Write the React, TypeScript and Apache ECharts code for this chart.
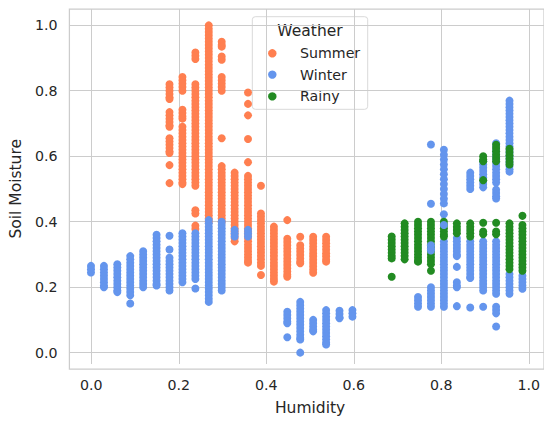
import { useEffect, useRef } from "react";
import * as echarts from "echarts";

// Humidity levels (k / 33)
const humidityLevels = [
  0.0, 0.03, 0.061, 0.091, 0.121, 0.152, 0.182, 0.212, 0.242, 0.273,
  0.303, 0.333, 0.364, 0.394, 0.424, 0.455, 0.485, 0.515, 0.545, 0.576,
  0.606, 0.636, 0.667, 0.697, 0.727, 0.758, 0.788, 0.818, 0.848, 0.879,
  0.909, 0.939, 0.97, 1.0,
];

const xTicks = [0, 0.2, 0.4, 0.6, 0.8, 1.0];
const yTicks = [0, 0.2, 0.4, 0.6, 0.8, 1.0];
const weatherNames = ["Summer", "Winter", "Rainy"];

// [humidity level index, soil moisture values]
const summerColumns: [number, number[]][] = [
  [6, [0.82, 0.81, 0.8, 0.79, 0.78, 0.775, 0.735, 0.725, 0.715, 0.705, 0.695, 0.69, 0.655, 0.645, 0.635, 0.625, 0.615, 0.61, 0.573, 0.518]],
  [7, [0.842, 0.832, 0.822, 0.812, 0.8, 0.742, 0.732, 0.722, 0.715, 0.69, 0.68, 0.67, 0.66, 0.65, 0.64, 0.63, 0.62, 0.61, 0.6, 0.59, 0.58, 0.57, 0.56, 0.55, 0.54, 0.53, 0.52, 0.515]],
  [8, [0.917, 0.907, 0.897, 0.82, 0.81, 0.8, 0.79, 0.78, 0.77, 0.76, 0.75, 0.74, 0.73, 0.72, 0.71, 0.7, 0.69, 0.68, 0.67, 0.66, 0.65, 0.64, 0.63, 0.62, 0.61, 0.6, 0.59, 0.58, 0.57, 0.56, 0.55, 0.54, 0.53, 0.52, 0.51, 0.435, 0.425, 0.388, 0.378]],
  [9, [1.0, 0.99, 0.98, 0.97, 0.96, 0.95, 0.94, 0.93, 0.92, 0.91, 0.9, 0.89, 0.88, 0.87, 0.86, 0.85, 0.84, 0.83, 0.82, 0.81, 0.8, 0.79, 0.78, 0.77, 0.76, 0.75, 0.74, 0.73, 0.72, 0.71, 0.7, 0.69, 0.68, 0.67, 0.66, 0.65, 0.64, 0.63, 0.62, 0.61, 0.6, 0.59, 0.58, 0.57, 0.56, 0.55, 0.54, 0.53, 0.52, 0.51, 0.5, 0.49, 0.48, 0.47, 0.46, 0.45, 0.44, 0.43, 0.42, 0.41, 0.4]],
  [10, [0.95, 0.94, 0.935, 0.905, 0.895, 0.842, 0.832, 0.822, 0.812, 0.8, 0.655, 0.57, 0.56, 0.55, 0.54, 0.53, 0.52, 0.51, 0.5, 0.49, 0.48, 0.47, 0.46, 0.45, 0.44, 0.43, 0.42, 0.41, 0.4]],
  [11, [0.55, 0.54, 0.53, 0.52, 0.51, 0.5, 0.49, 0.48, 0.47, 0.46, 0.45, 0.44, 0.43, 0.42, 0.41, 0.4, 0.39, 0.38, 0.37, 0.36, 0.35, 0.34]],
  [12, [0.795, 0.76, 0.725, 0.653, 0.582, 0.54, 0.53, 0.52, 0.51, 0.5, 0.49, 0.48, 0.47, 0.46, 0.45, 0.44, 0.43, 0.42, 0.41, 0.4, 0.39, 0.38, 0.37, 0.36, 0.35, 0.34, 0.33, 0.32, 0.31, 0.3, 0.29, 0.28, 0.275]],
  [13, [0.51, 0.425, 0.415, 0.405, 0.395, 0.385, 0.375, 0.365, 0.355, 0.345, 0.335, 0.325, 0.315, 0.305, 0.295, 0.285, 0.275, 0.265, 0.237]],
  [14, [0.385, 0.375, 0.365, 0.355, 0.345, 0.335, 0.325, 0.315, 0.305, 0.295, 0.285, 0.275, 0.265, 0.255, 0.245, 0.235, 0.225, 0.217]],
  [15, [0.405, 0.348, 0.338, 0.328, 0.318, 0.308, 0.298, 0.288, 0.278, 0.268, 0.258, 0.248, 0.238, 0.232]],
  [16, [0.354, 0.328, 0.318, 0.308, 0.298, 0.288, 0.278, 0.273]],
  [17, [0.354, 0.344, 0.334, 0.324, 0.314, 0.304, 0.294, 0.284, 0.274, 0.264, 0.254, 0.244]],
  [18, [0.354, 0.344, 0.334, 0.324, 0.314, 0.304, 0.294, 0.284, 0.278]],
];

const winterColumns: [number, number[]][] = [
  [0, [0.265, 0.255, 0.245]],
  [1, [0.265, 0.255, 0.245, 0.235, 0.225, 0.215, 0.205, 0.2]],
  [2, [0.27, 0.26, 0.25, 0.24, 0.23, 0.22, 0.21, 0.2, 0.19, 0.185]],
  [3, [0.295, 0.285, 0.275, 0.265, 0.255, 0.245, 0.235, 0.225, 0.215, 0.205, 0.195, 0.185, 0.175, 0.15]],
  [4, [0.31, 0.3, 0.29, 0.28, 0.27, 0.26, 0.25, 0.24, 0.23, 0.22, 0.21, 0.2]],
  [5, [0.36, 0.35, 0.34, 0.33, 0.32, 0.31, 0.3, 0.29, 0.28, 0.27, 0.26, 0.25, 0.24, 0.23, 0.22, 0.21, 0.205]],
  [6, [0.357, 0.315, 0.29, 0.28, 0.27, 0.26, 0.25, 0.24, 0.23, 0.22, 0.21, 0.2, 0.19]],
  [7, [0.365, 0.355, 0.345, 0.335, 0.325, 0.315, 0.305, 0.295, 0.285, 0.275, 0.265, 0.255, 0.245, 0.235, 0.225, 0.215]],
  [8, [0.365, 0.355, 0.345, 0.335, 0.325, 0.315, 0.305, 0.295, 0.285, 0.275, 0.265, 0.255, 0.245, 0.235, 0.225, 0.196]],
  [9, [0.405, 0.395, 0.385, 0.375, 0.365, 0.355, 0.345, 0.335, 0.325, 0.315, 0.305, 0.295, 0.285, 0.275, 0.265, 0.255, 0.245, 0.235, 0.225, 0.215, 0.205, 0.195, 0.185, 0.175, 0.165, 0.155]],
  [10, [0.4, 0.39, 0.38, 0.37, 0.36, 0.35, 0.34, 0.33, 0.32, 0.31, 0.3, 0.29, 0.28, 0.27, 0.26, 0.25, 0.24, 0.23, 0.22, 0.21, 0.2, 0.19]],
  [11, [0.375, 0.365, 0.355]],
  [12, [0.375, 0.365, 0.355]],
  [15, [0.125, 0.115, 0.105, 0.095, 0.09, 0.047]],
  [16, [0.155, 0.145, 0.135, 0.125, 0.115, 0.105, 0.095, 0.085, 0.075, 0.065, 0.055, 0.045, 0.04, 0.0]],
  [17, [0.1, 0.09, 0.08, 0.07, 0.065]],
  [18, [0.13, 0.12, 0.11, 0.1, 0.09, 0.08, 0.07, 0.06, 0.05, 0.04, 0.03, 0.025]],
  [19, [0.128, 0.118, 0.108, 0.105]],
  [20, [0.13, 0.12, 0.11]],
  [25, [0.17, 0.16, 0.15, 0.14]],
  [26, [0.636, 0.455, 0.2, 0.19, 0.18, 0.17, 0.16, 0.15, 0.14]],
  [27, [0.62, 0.605, 0.59, 0.575, 0.56, 0.545, 0.53, 0.515, 0.5, 0.485, 0.47, 0.456, 0.423, 0.34, 0.33, 0.32, 0.31, 0.3, 0.29, 0.28, 0.27, 0.26, 0.25, 0.24, 0.23, 0.22, 0.21, 0.2, 0.19, 0.18, 0.17, 0.16, 0.15, 0.14]],
  [28, [0.35, 0.34, 0.33, 0.32, 0.31, 0.3, 0.295, 0.262, 0.215, 0.205, 0.2, 0.142]],
  [29, [0.55, 0.54, 0.53, 0.52, 0.51, 0.5, 0.34, 0.33, 0.32, 0.31, 0.3, 0.29, 0.28, 0.27, 0.26, 0.25, 0.24, 0.23, 0.228, 0.138]],
  [30, [0.585, 0.575, 0.565, 0.555, 0.545, 0.535, 0.525, 0.515, 0.505, 0.34, 0.33, 0.32, 0.31, 0.3, 0.29, 0.28, 0.27, 0.26, 0.25, 0.24, 0.23, 0.22, 0.21, 0.2, 0.19, 0.14]],
  [31, [0.64, 0.63, 0.62, 0.61, 0.6, 0.59, 0.58, 0.57, 0.56, 0.55, 0.54, 0.53, 0.52, 0.498, 0.488, 0.478, 0.471, 0.34, 0.33, 0.32, 0.31, 0.3, 0.29, 0.28, 0.27, 0.26, 0.25, 0.24, 0.23, 0.22, 0.21, 0.2, 0.19, 0.18, 0.14, 0.13, 0.12, 0.08]],
  [32, [0.77, 0.76, 0.75, 0.74, 0.73, 0.72, 0.71, 0.7, 0.69, 0.68, 0.67, 0.66, 0.65, 0.64, 0.63, 0.62, 0.61, 0.6, 0.59, 0.58, 0.57, 0.56, 0.553, 0.24, 0.23, 0.22, 0.21, 0.2, 0.19, 0.18]],
  [33, [0.235, 0.225, 0.215, 0.205, 0.195]],
];

// winter points that lie on top of rainy points
const winterTopColumns: [number, number[]][] = [
  [26, [0.328, 0.318, 0.312]],
  [27, [0.39]],
];

const rainyColumns: [number, number[]][] = [
  [23, [0.355, 0.345, 0.335, 0.325, 0.315, 0.305, 0.295, 0.288, 0.232]],
  [24, [0.395, 0.385, 0.375, 0.365, 0.355, 0.345, 0.335, 0.325, 0.315, 0.305, 0.295, 0.285]],
  [25, [0.4, 0.39, 0.38, 0.37, 0.36, 0.35, 0.34, 0.33, 0.32, 0.31, 0.3, 0.29, 0.28, 0.278]],
  [26, [0.4, 0.39, 0.38, 0.37, 0.36, 0.35, 0.34, 0.33, 0.32, 0.31, 0.3, 0.29, 0.28, 0.27, 0.25]],
  [27, [0.4, 0.39, 0.38, 0.37, 0.36, 0.355]],
  [28, [0.395, 0.385, 0.375, 0.365]],
  [29, [0.395, 0.385, 0.375, 0.365, 0.355]],
  [30, [0.6, 0.59, 0.585, 0.527, 0.397, 0.37, 0.362]],
  [31, [0.635, 0.625, 0.615, 0.605, 0.595, 0.585, 0.397, 0.37, 0.362]],
  [32, [0.623, 0.613, 0.603, 0.593, 0.583, 0.575, 0.395, 0.385, 0.375, 0.365, 0.355, 0.345, 0.335, 0.325, 0.315, 0.305, 0.295, 0.285, 0.275, 0.265, 0.255]],
  [33, [0.418, 0.39, 0.38, 0.37, 0.36, 0.35, 0.34, 0.33, 0.32, 0.31, 0.3, 0.29, 0.28, 0.27, 0.26, 0.25]],
];

const COLORS = ["#FF7F50", "#6495ED", "#228B22"];
const TEXT = "#262626";
const GRID = "#cccccc";
const FONT = "DejaVu Sans";

function toPoints(cols: [number, number[]][]) {
  return cols.flatMap(([k, ys]) => ys.map((y) => [humidityLevels[k], y]));
}

export default function App() {
  const ref = useRef<HTMLDivElement>(null);
  useEffect(() => {
    document.body.style.margin = "0";
    const chart = echarts.init(ref.current!, null, { renderer: "svg" });
    const scatter = (name: string, color: string, cols: [number, number[]][]) => ({
      type: "scatter",
      name,
      xAxisIndex: 0,
      yAxisIndex: 0,
      symbol: "circle",
      symbolSize: 8,
      itemStyle: { color, borderWidth: 0, opacity: 1 },
      data: toPoints(cols),
    });
    const legendX = 252.3;
    const legendY = 16.7;
    const rowY = [53.3, 74.6, 96.4];
    chart.setOption({
      animation: false,
      textStyle: { fontFamily: FONT },
      grid: [
        { left: 69.4, top: 9, width: 481.3, height: 360, show: true, borderColor: GRID, borderWidth: 1.25, backgroundColor: "transparent" },
        { left: 91.3, top: 9, width: 437.5, height: 360 },
        { left: 69.4, top: 25, width: 481.3, height: 327.6 },
      ],
      xAxis: [
        { gridIndex: 0, type: "value", min: -0.05, max: 1.05, show: false },
        {
          gridIndex: 1,
          type: "value",
          min: xTicks[0],
          max: xTicks[xTicks.length - 1],
          interval: 0.2,
          axisLine: { show: false },
          axisTick: { show: false },
          splitLine: { show: true, lineStyle: { color: GRID, width: 1 } },
          axisLabel: { fontSize: 14.2, color: TEXT, margin: 14, fontFamily: FONT, formatter: (v: number) => v.toFixed(1) },
          name: "Humidity",
          nameLocation: "middle",
          nameGap: 36,
          nameTextStyle: { fontSize: 15.5, color: TEXT, fontFamily: FONT },
        },
        { gridIndex: 2, type: "value", min: 0, max: 1, show: false },
      ],
      yAxis: [
        { gridIndex: 0, type: "value", min: -0.05, max: 1.05, show: false },
        { gridIndex: 1, type: "value", min: 0, max: 1, show: false },
        {
          gridIndex: 2,
          type: "value",
          min: yTicks[0],
          max: yTicks[yTicks.length - 1],
          interval: 0.2,
          axisLine: { show: false },
          axisTick: { show: false },
          splitLine: { show: true, lineStyle: { color: GRID, width: 1 } },
          axisLabel: { fontSize: 14.2, color: TEXT, margin: 12, fontFamily: FONT, formatter: (v: number) => v.toFixed(1) },
          name: "Soil Moisture",
          nameLocation: "middle",
          nameGap: 39,
          nameTextStyle: { fontSize: 15.5, color: TEXT, fontFamily: FONT },
        },
      ],
      series: [
        scatter(weatherNames[0], COLORS[0], summerColumns),
        scatter(weatherNames[1], COLORS[1], winterColumns),
        scatter(weatherNames[2], COLORS[2], rainyColumns),
        scatter(weatherNames[1], COLORS[1], winterTopColumns),
      ],
      graphic: [
        {
          type: "group",
          z: 100,
          children: [
            {
              type: "rect",
              shape: { x: legendX, y: legendY, width: 115.4, height: 92.6, r: 3 },
              style: { fill: "rgba(255,255,255,0.8)", stroke: "#d9d9d9", lineWidth: 1 },
            },
            {
              type: "text",
              style: { x: 310, y: 30.5, text: "Weather", fontSize: 15.5, fill: TEXT, fontFamily: FONT, align: "center", verticalAlign: "middle" },
            },
            ...weatherNames.flatMap((n, i) => [
              { type: "circle", shape: { cx: 272.3, cy: rowY[i], r: 4.2 }, style: { fill: COLORS[i] } },
              {
                type: "text",
                style: { x: 300, y: rowY[i], text: n, fontSize: 14.2, fill: TEXT, fontFamily: FONT, align: "left", verticalAlign: "middle" },
              },
            ]),
          ],
        },
      ],
    });
    return () => chart.dispose();
  }, []);
  return <div ref={ref} style={{ position: "absolute", left: 0, top: 0, width: 544, height: 421 }} />;
}
